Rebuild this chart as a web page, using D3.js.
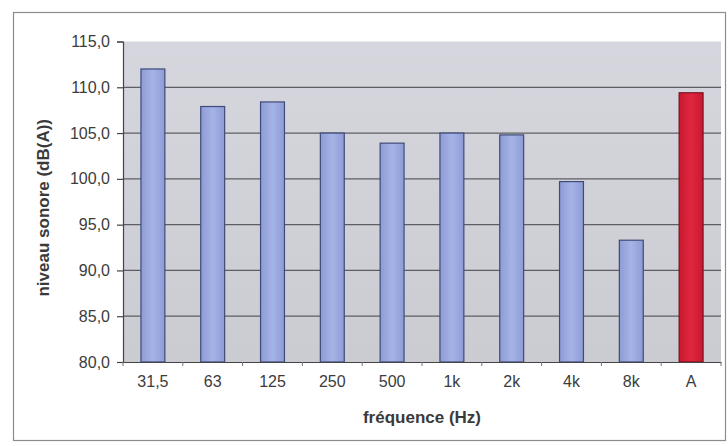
<!DOCTYPE html>
<html>
<head>
<meta charset="utf-8">
<script src="https://cdn.jsdelivr.net/npm/d3@7"></script>
<style>
  html, body { margin: 0; padding: 0; background: #ffffff; }
  svg { display: block; }
  text { font-family: "Liberation Sans", Arial, sans-serif; }
</style>
</head>
<body>
<svg id="chart" width="728" height="446"></svg>
<script>
// Sound level per octave band, plus the overall A-weighted level
const categories = ["31,5", "63", "125", "250", "500", "1k", "2k", "4k", "8k", "A"];
const levels = [112.0, 107.9, 108.4, 105.0, 103.9, 105.0, 104.8, 99.7, 93.3, 109.4];
const yTicks = [80, 85, 90, 95, 100, 105, 110, 115];

const svg = d3.select("#chart");
const plot = { left: 123, right: 721, top: 41.5, bottom: 362 };

// outer frame
svg.append("rect")
  .attr("x", 13.5).attr("y", 12.5)
  .attr("width", 712).attr("height", 428)
  .attr("fill", "#ffffff").attr("stroke", "#8c8c8c").attr("stroke-width", 1.2);

const defs = svg.append("defs");
const bgGrad = defs.append("linearGradient").attr("id", "bg").attr("x1", 0).attr("y1", 0).attr("x2", 0).attr("y2", 1);
bgGrad.append("stop").attr("offset", "0%").attr("stop-color", "#d6d7de");
bgGrad.append("stop").attr("offset", "100%").attr("stop-color", "#cbccd2");

const blueGrad = defs.append("linearGradient").attr("id", "blue").attr("x1", 0).attr("y1", 0).attr("x2", 1).attr("y2", 0);
blueGrad.append("stop").attr("offset", "0%").attr("stop-color", "#8e9cd6");
blueGrad.append("stop").attr("offset", "50%").attr("stop-color", "#a6b3e6");
blueGrad.append("stop").attr("offset", "100%").attr("stop-color", "#8e9cd6");

const redGrad = defs.append("linearGradient").attr("id", "red").attr("x1", 0).attr("y1", 0).attr("x2", 1).attr("y2", 0);
redGrad.append("stop").attr("offset", "0%").attr("stop-color", "#c81830");
redGrad.append("stop").attr("offset", "50%").attr("stop-color", "#e0283e");
redGrad.append("stop").attr("offset", "100%").attr("stop-color", "#c81830");

const x = d3.scaleBand().domain(categories).range([plot.left, plot.right]).paddingInner(0.6).paddingOuter(0.3);
const y = d3.scaleLinear().domain([80, 115]).range([plot.bottom, plot.top]);

// plot background
svg.append("rect")
  .attr("x", plot.left).attr("y", plot.top)
  .attr("width", plot.right - plot.left).attr("height", plot.bottom - plot.top)
  .attr("fill", "url(#bg)");

// horizontal gridlines
svg.append("g").selectAll("line")
  .data(yTicks.filter(t => t > 80 && t < 115))
  .join("line")
  .attr("x1", plot.left).attr("x2", plot.right)
  .attr("y1", d => y(d)).attr("y2", d => y(d))
  .attr("stroke", "#5e5e62").attr("stroke-width", 1.3);

// bars
svg.append("g").selectAll("rect")
  .data(categories.map((c, i) => ({ c, v: levels[i] })))
  .join("rect")
  .attr("x", d => x(d.c)).attr("width", x.bandwidth())
  .attr("y", d => y(d.v)).attr("height", d => y(80) - y(d.v))
  .attr("fill", d => d.c === "A" ? "url(#red)" : "url(#blue)")
  .attr("stroke", d => d.c === "A" ? "#7a1020" : "#3e4a78")
  .attr("stroke-width", 1.2);

// y axis
const yAxis = svg.append("g")
  .attr("transform", `translate(${plot.left},0)`)
  .call(d3.axisLeft(y).tickValues(yTicks).tickSize(6).tickPadding(7)
    .tickFormat(d => d3.format(".1f")(d).replace(".", ",")));
yAxis.select(".domain").attr("stroke", "#444").attr("stroke-width", 1.2);
yAxis.selectAll(".tick line").attr("stroke", "#444").attr("stroke-width", 1.2);
yAxis.selectAll("text").attr("fill", "#3c3c3c").attr("font-size", 16);

// x axis
const xAxis = svg.append("g")
  .attr("transform", `translate(0,${plot.bottom})`)
  .call(d3.axisBottom(x).tickSize(0).tickPadding(14));
xAxis.select(".domain").attr("stroke", "#444").attr("stroke-width", 1.2);
xAxis.selectAll("text").attr("fill", "#3c3c3c").attr("font-size", 16);

// small tick marks between categories
svg.append("g").selectAll("line")
  .data(d3.range(categories.length + 1))
  .join("line")
  .attr("x1", i => plot.left + i * (plot.right - plot.left) / categories.length)
  .attr("x2", i => plot.left + i * (plot.right - plot.left) / categories.length)
  .attr("y1", plot.bottom).attr("y2", plot.bottom + 4)
  .attr("stroke", "#777").attr("stroke-width", 1);

// axis titles
svg.append("text")
  .attr("x", (plot.left + plot.right) / 2).attr("y", 423)
  .attr("text-anchor", "middle")
  .attr("font-size", 17).attr("font-weight", "bold").attr("fill", "#3a3a3a")
  .text("fréquence (Hz)");

svg.append("text")
  .attr("transform", `translate(49,${(plot.top + plot.bottom) / 2 + 6}) rotate(-90)`)
  .attr("text-anchor", "middle")
  .attr("font-size", 17).attr("font-weight", "bold").attr("fill", "#3a3a3a")
  .text("niveau sonore (dB(A))");
</script>
</body>
</html>
